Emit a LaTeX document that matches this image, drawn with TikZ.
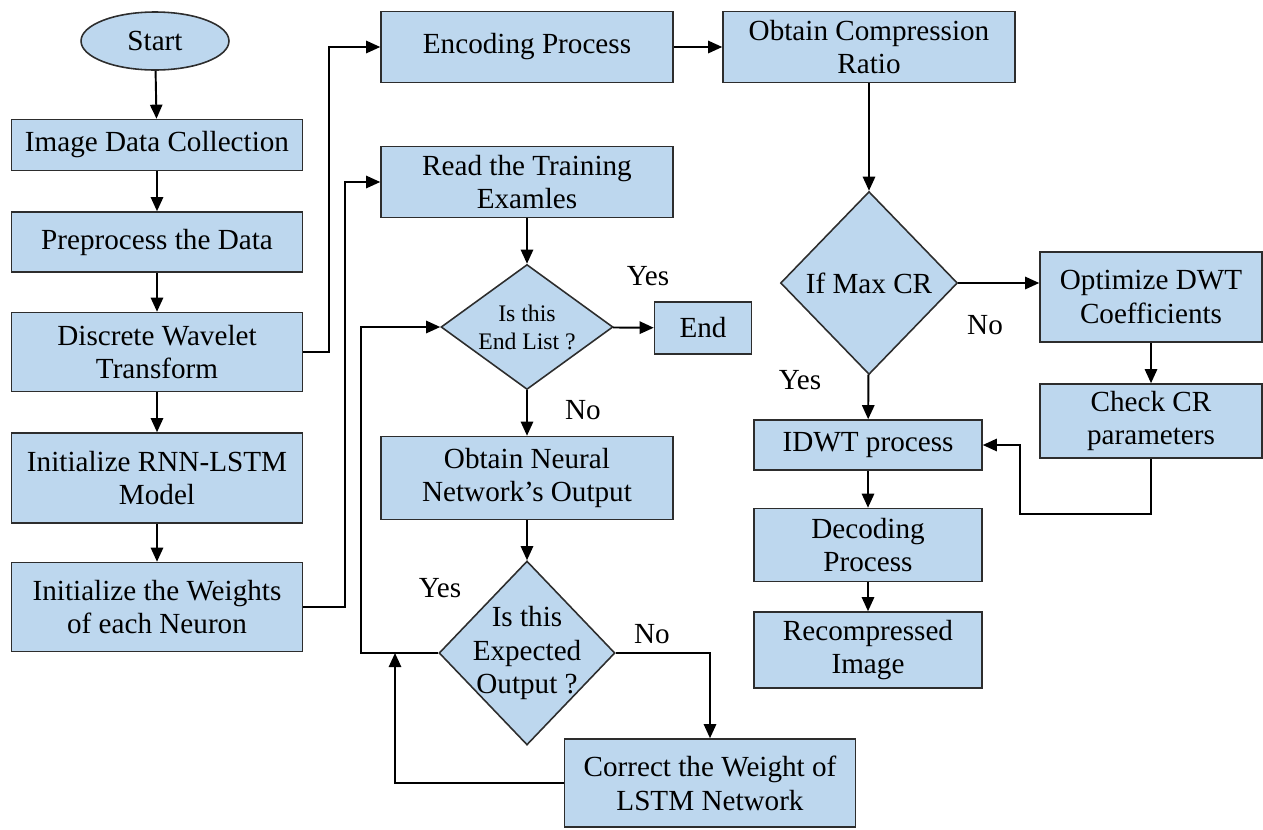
\documentclass[tikz,border=0pt]{standalone}
\usepackage{fontspec}
\setmainfont{Liberation Serif}
\usetikzlibrary{shapes.geometric,arrows.meta}
\definecolor{boxblue}{RGB}{189,215,238}
\definecolor{boxline}{RGB}{45,45,45}
\begin{document}
\begin{tikzpicture}[x=0.02cm, y=-0.02cm,
  every node/.style={font=\fontsize{16.6}{19.3}\selectfont},
  procbox/.style 2 args={draw=boxline, fill=boxblue, line width=0.9pt, align=center,
    inner sep=0pt, minimum width=#1, minimum height=#2},
  decision/.style 2 args={draw=boxline, fill=boxblue, line width=0.9pt, diamond,
    inner sep=0pt, minimum width=#1, minimum height=#2},
  dtext/.style={align=center},
  flow/.style={line width=1.1pt, -{Triangle[length=8pt,width=7pt]}}]
  \useasboundingbox (0,0) rectangle (1263,829);
  % Linke Spalte
  \node[procbox={2.96cm}{1.16cm}, ellipse] (start) at (155,41) {Start};
  \node[procbox={5.82cm}{1.02cm}] (collect) at (157,145) {Image Data Collection};
  \node[procbox={5.82cm}{1.2cm}] (prep) at (157,242) {Preprocess the Data};
  \node[procbox={5.82cm}{1.58cm}] (dwt) at (157,352) {Discrete Wavelet\\Transform};
  \node[procbox={5.82cm}{1.8cm}] (initrnn) at (157,478) {Initialize RNN-LSTM\\Model};
  \node[procbox={5.82cm}{1.78cm}] (initw) at (157,607) {Initialize the Weights\\of each Neuron};
  % Mittlere Spalte
  \node[procbox={5.84cm}{1.42cm}] (encode) at (527,47) {Encoding Process};
  \node[procbox={5.84cm}{1.42cm}] (readex) at (527,182) {Read the Training\\Examles};
  \node[decision={3.44cm}{2.5cm},
    label={[dtext, font=\fontsize{13.5}{15.9}\selectfont]center:Is this\\End List ?}] (endlist) at (527,327) {};
  \node[procbox={1.94cm}{1.04cm}] (endbox) at (703,328) {End};
  \node[procbox={5.84cm}{1.66cm}] (nnout) at (527,478) {Obtain Neural\\Network’s Output};
  \node[decision={3.52cm}{3.68cm},
    label={[dtext]center:Is this\\Expected\\Output ?}] (expect) at (527,653) {};
  \node[procbox={5.82cm}{1.76cm}] (correct) at (710,783) {Correct the Weight of\\LSTM Network};
  % Rechte Spalte
  \node[procbox={5.84cm}{1.42cm}] (ratio) at (869,47) {Obtain Compression\\Ratio};
  \node[decision={3.54cm}{3.66cm}, label={[dtext]center:If Max CR}] (maxcr) at (869,283) {};
  \node[procbox={4.44cm}{1.8cm}] (optim) at (1151,297) {Optimize DWT\\Coefficients};
  \node[procbox={4.44cm}{1.48cm}] (check) at (1151,421) {Check CR\\parameters};
  \node[procbox={4.56cm}{1.0cm}] (idwt) at (868,445) {IDWT process};
  \node[procbox={4.56cm}{1.46cm}] (decode) at (868,545) {Decoding\\Process};
  \node[procbox={4.56cm}{1.52cm}] (recomp) at (868,650) {Recompressed\\Image};
  % Beschriftungen
  \node (yesend) at (648,276) {Yes};
  \node (noend) at (583,410) {No};
  \node (yesexp) at (440,588) {Yes};
  \node (noexp) at (652,634) {No};
  \node (nocr) at (985,325) {No};
  \node (yescr) at (800,380) {Yes};
  % Pfeile
  \draw[flow] (start) -- (collect);
  \draw[flow] (collect) -- (prep);
  \draw[flow] (prep) -- (dwt);
  \draw[flow] (dwt) -- (initrnn);
  \draw[flow] (initrnn) -- (initw);
  \draw[flow] (dwt.east) -- ++(26,0) |- (encode.west);
  \draw[flow] (initw.east) -- ++(42,0) |- (readex.west);
  \draw[flow] (encode) -- (ratio);
  \draw[flow] (ratio) -- (maxcr);
  \draw[flow] (maxcr.east) -- (maxcr.east -| optim.west);
  \draw[flow] (maxcr) -- (idwt);
  \draw[flow] (optim) -- (check);
  \draw[flow] (check.south) -- ++(0,55) -- ++(-131,0) |- (idwt.east);
  \draw[flow] (idwt) -- (decode);
  \draw[flow] (decode) -- (recomp);
  \draw[flow] (readex) -- (endlist);
  \draw[flow] (endlist) -- (endbox);
  \draw[flow] (endlist) -- (nnout);
  \draw[flow] (nnout) -- (expect);
  \draw[flow] (expect.west) -- ++(-77,0) |- (endlist.west);
  \draw[flow] (expect.east) -| (correct.north);
  \coordinate (loopin) at (395,653);
  \draw[flow] (correct.west) -| (loopin);
\end{tikzpicture}
\end{document}
